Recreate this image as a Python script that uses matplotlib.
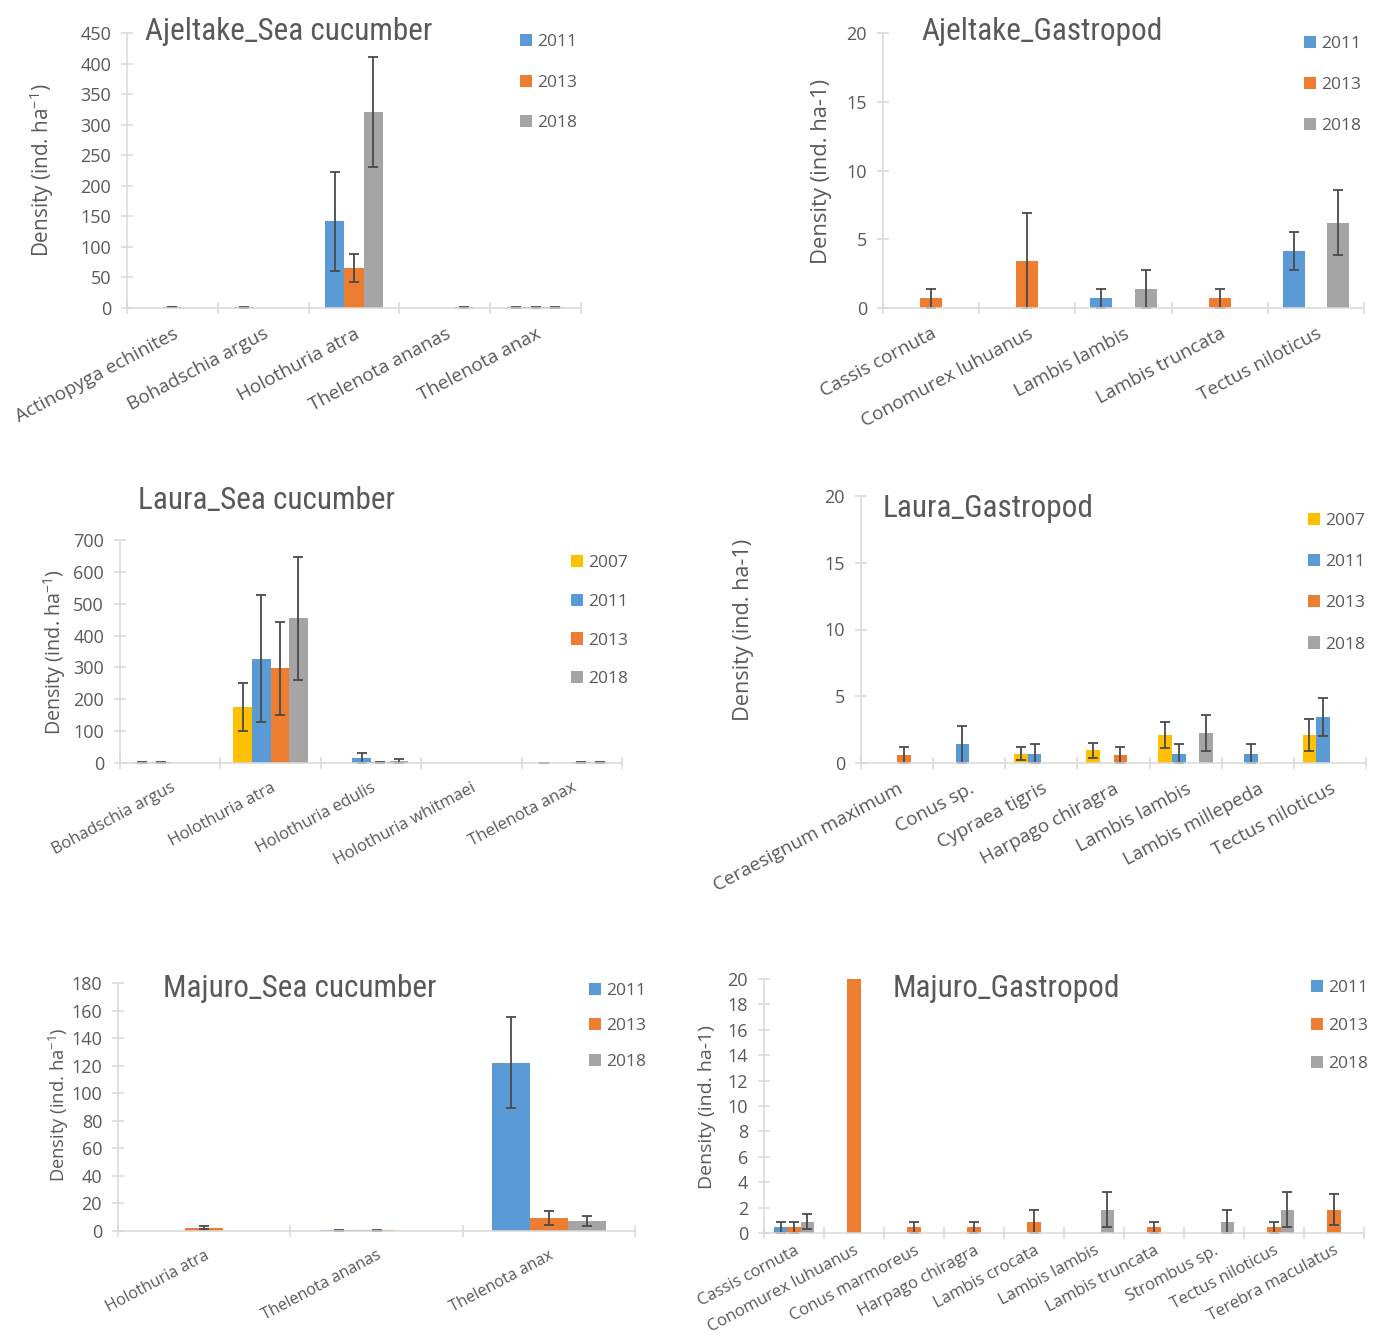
import numpy as np
from matplotlib import pyplot as plt
from matplotlib import font_manager
from matplotlib.patches import Patch

# ---- data ----
aj_sc_species = ['Actinopyga echinites', 'Bohadschia argus', 'Holothuria atra',
                 'Thelenota ananas', 'Thelenota anax']
aj_sc_years = ['2011', '2013', '2018']
aj_sc_2011 = [0, 1, 142, 0, 1]
aj_sc_2013 = [1.5, 0, 66, 0, 1]
aj_sc_2018 = [0, 0, 321, 1, 1]
aj_sc_2011_err = [0, 0.5, 81, 0, 0.5]
aj_sc_2013_err = [0.5, 0, 23, 0, 0.5]
aj_sc_2018_err = [0, 0, 90, 0.5, 0.5]

aj_ga_species = ['Cassis cornuta', 'Conomurex luhuanus', 'Lambis lambis',
                 'Lambis truncata', 'Tectus niloticus']
aj_ga_years = ['2011', '2013', '2018']
aj_ga_2011 = [0, 0, 0.7, 0, 4.15]
aj_ga_2013 = [0.7, 3.4, 0, 0.7, 0]
aj_ga_2018 = [0, 0, 1.4, 0, 6.2]
aj_ga_2011_err = [0, 0, 0.7, 0, 1.37]
aj_ga_2013_err = [0.7, 3.5, 0, 0.7, 0]
aj_ga_2018_err = [0, 0, 1.4, 0, 2.36]

la_sc_species = ['Bohadschia argus', 'Holothuria atra', 'Holothuria edulis',
                 'Holothuria whitmaei', 'Thelenota anax']
la_sc_years = ['2007', '2011', '2013', '2018']
la_sc_2007 = [2, 175, 0, 0, 1]
la_sc_2011 = [2, 328, 15, 0, 0]
la_sc_2013 = [0, 297, 2, 1, 3]
la_sc_2018 = [0, 454, 6, 0, 3]
la_sc_2007_err = [1.5, 76, 0, 0, 0.5]
la_sc_2011_err = [1.5, 199, 15, 0, 0]
la_sc_2013_err = [0, 147, 1, 0, 1.5]
la_sc_2018_err = [0, 192, 7, 0, 1.5]

la_ga_species = ['Ceraesignum maximum', 'Conus sp.', 'Cypraea tigris', 'Harpago chiragra',
                 'Lambis lambis', 'Lambis millepeda', 'Tectus niloticus']
la_ga_years = ['2007', '2011', '2013', '2018']
la_ga_2007 = [0, 0, 0.7, 0.95, 2.1, 0, 2.1]
la_ga_2011 = [0, 1.4, 0.7, 0, 0.7, 0.7, 3.45]
la_ga_2013 = [0.6, 0, 0, 0.6, 0, 0, 0]
la_ga_2018 = [0, 0, 0, 0, 2.25, 0, 0]
la_ga_2007_err = [0, 0, 0.5, 0.55, 0.95, 0, 1.2]
la_ga_2011_err = [0, 1.4, 0.7, 0, 0.7, 0.7, 1.4]
la_ga_2013_err = [0.6, 0, 0, 0.6, 0, 0, 0]
la_ga_2018_err = [0, 0, 0, 0, 1.35, 0, 0]

ma_sc_species = ['Holothuria atra', 'Thelenota ananas', 'Thelenota anax']
ma_sc_years = ['2011', '2013', '2018']
ma_sc_2011 = [0, 0.5, 122]
ma_sc_2013 = [2.4, 0.5, 9.7]
ma_sc_2018 = [0, 0, 7]
ma_sc_2011_err = [0, 0.5, 33]
ma_sc_2013_err = [1.2, 0.5, 5]
ma_sc_2018_err = [0, 0, 3.6]

ma_ga_species = ['Cassis cornuta', 'Conomurex luhuanus', 'Conus marmoreus', 'Harpago chiragra',
                 'Lambis crocata', 'Lambis lambis', 'Lambis truncata', 'Strombus sp.',
                 'Tectus niloticus', 'Terebra maculatus']
ma_ga_years = ['2011', '2013', '2018']
ma_ga_2011 = [0.45, 0, 0, 0, 0, 0, 0, 0, 0, 0]
ma_ga_2013 = [0.45, 20, 0.45, 0.45, 0.9, 0, 0.45, 0, 0.45, 1.85]
ma_ga_2018 = [0.9, 0, 0, 0, 0, 1.85, 0, 0.9, 1.85, 0]
ma_ga_2011_err = [0.45, 0, 0, 0, 0, 0, 0, 0, 0, 0]
ma_ga_2013_err = [0.45, 0, 0.45, 0.45, 0.9, 0, 0.45, 0, 0.45, 1.2]
ma_ga_2018_err = [0.6, 0, 0, 0, 0, 1.4, 0, 0.9, 1.4, 0]

colors = {'2007': '#FFC000', '2011': '#5B9BD5', '2013': '#ED7D31', '2018': '#A5A5A5'}
text_color = '#595959'
axis_color = '#D9D9D9'

W, H = 1375, 1336

installed = {f.name for f in font_manager.fontManager.ttflist}
title_font = next(n for n in ['Liberation Sans Narrow', 'Roboto Condensed', 'Open Sans Condensed',
                              'DejaVu Sans Condensed', 'DejaVu Sans'] if n in installed)

plt.rcParams['font.family'] = ['Open Sans', 'DejaVu Sans']
plt.rcParams['mathtext.default'] = 'regular'


def draw(fig, box, title, title_xy, species, years, values, errors, ymax, ystep,
         ylabel, ylabel_xy, legend_xy, spacing, width, xfs=13.5, yfs=15, xpad=12):
    left, right, top, bottom = box
    ax = fig.add_axes([left / W, 1 - bottom / H, (right - left) / W, (bottom - top) / H])
    n = len(years)
    x = np.arange(len(species))
    for k, year in enumerate(years):
        pos = x + (k - (n - 1) / 2) * width
        vals = np.array(values[k], dtype=float)
        errs = np.array(errors[k], dtype=float)
        ax.bar(pos, vals, width, color=colors[year], label=year)
        shown = np.where((vals > 0) & (errs > 0), vals, np.nan)
        ax.errorbar(pos, shown, yerr=errs, fmt='none', ecolor='#4a4a4a',
                    elinewidth=1.3, capsize=3.5, capthick=1.3)

    ax.set_xlim(-0.5, len(species) - 0.5)
    ax.set_ylim(0, ymax)
    ax.set_yticks(np.arange(0, ymax + ystep / 2, ystep))
    ax.set_xticks(x)
    ax.set_xticklabels(species, rotation=28, ha='right', rotation_mode='anchor',
                       fontsize=xfs, color=text_color)
    ax.set_xticks(np.arange(len(species) + 1) - 0.5, minor=True)
    ax.tick_params(axis='x', which='major', length=0, pad=xpad)
    ax.tick_params(axis='x', which='minor', length=9, direction='inout',
                   color=axis_color, width=1.1)
    ax.tick_params(axis='y', length=9, direction='inout', color=axis_color, width=1.1,
                   labelsize=13, labelcolor=text_color, pad=7)
    for side in ['top', 'right']:
        ax.spines[side].set_visible(False)
    for side in ['left', 'bottom']:
        ax.spines[side].set_color(axis_color)
        ax.spines[side].set_linewidth(1.1)

    fig.text(title_xy[0] / W, 1 - title_xy[1] / H, title, fontsize=22.5, color=text_color,
             family=title_font, ha='left', va='baseline')
    fig.text(ylabel_xy[0] / W, 1 - ylabel_xy[1] / H, ylabel, fontsize=yfs, color=text_color,
             rotation=90, ha='center', va='center')

    handles = [Patch(facecolor=colors[y], label=y) for y in years]
    fig.legend(handles=handles, loc='upper left',
               bbox_to_anchor=(legend_xy[0] / W, 1 - legend_xy[1] / H),
               frameon=False, fontsize=12.5, labelcolor=text_color,
               handlelength=0.7, handleheight=0.7, handletextpad=0.3,
               labelspacing=spacing, borderpad=0, borderaxespad=0)
    return ax


fig = plt.figure(figsize=(W / 100, H / 100), dpi=100)

sc_label = 'Density (ind. ha$^{-1}$)'
ga_label = 'Density (ind. ha-1)'

draw(fig, (127, 581, 33, 308), 'Ajeltake_Sea cucumber', (145, 40),
     aj_sc_species, aj_sc_years, [aj_sc_2011, aj_sc_2013, aj_sc_2018],
     [aj_sc_2011_err, aj_sc_2013_err, aj_sc_2018_err], 450, 50,
     sc_label, (42, 170), (520, 34), 1.41, 0.213, xfs=13.7, yfs=14.9)

draw(fig, (883, 1364, 33, 308), 'Ajeltake_Gastropod', (921, 40),
     aj_ga_species, aj_ga_years, [aj_ga_2011, aj_ga_2013, aj_ga_2018],
     [aj_ga_2011_err, aj_ga_2013_err, aj_ga_2018_err], 20, 5,
     ga_label, (821, 171), (1304, 36), 1.44, 0.23, xfs=13.7, yfs=15.8)

draw(fig, (120, 622, 540, 763), 'Laura_Sea cucumber', (138, 509),
     la_sc_species, la_sc_years, [la_sc_2007, la_sc_2011, la_sc_2013, la_sc_2018],
     [la_sc_2007_err, la_sc_2011_err, la_sc_2013_err, la_sc_2018_err], 700, 100,
     sc_label, (55, 652), (571, 555), 1.30, 0.185, xfs=12, yfs=14.2)

draw(fig, (861, 1366, 496, 763), 'Laura_Gastropod', (883, 517),
     la_ga_species, la_ga_years, [la_ga_2007, la_ga_2011, la_ga_2013, la_ga_2018],
     [la_ga_2007_err, la_ga_2011_err, la_ga_2013_err, la_ga_2018_err], 20, 5,
     ga_label, (743, 630), (1308, 513), 1.44, 0.19, xfs=13.7, yfs=15.6)

draw(fig, (118, 635, 983, 1231), 'Majuro_Sea cucumber', (163, 997),
     ma_sc_species, ma_sc_years, [ma_sc_2011, ma_sc_2013, ma_sc_2018],
     [ma_sc_2011_err, ma_sc_2013_err, ma_sc_2018_err], 180, 20,
     sc_label, (59, 1105), (589, 983), 1.10, 0.22, xfs=11.5, yfs=13.2)

draw(fig, (764, 1364, 979, 1233), 'Majuro_Gastropod', (893, 997),
     ma_ga_species, ma_ga_years, [ma_ga_2011, ma_ga_2013, ma_ga_2018],
     [ma_ga_2011_err, ma_ga_2013_err, ma_ga_2018_err], 20, 2,
     ga_label, (707, 1107), (1311, 980), 1.25, 0.22, xfs=12, yfs=14, xpad=7)

fig.savefig('out.png', dpi=100)
